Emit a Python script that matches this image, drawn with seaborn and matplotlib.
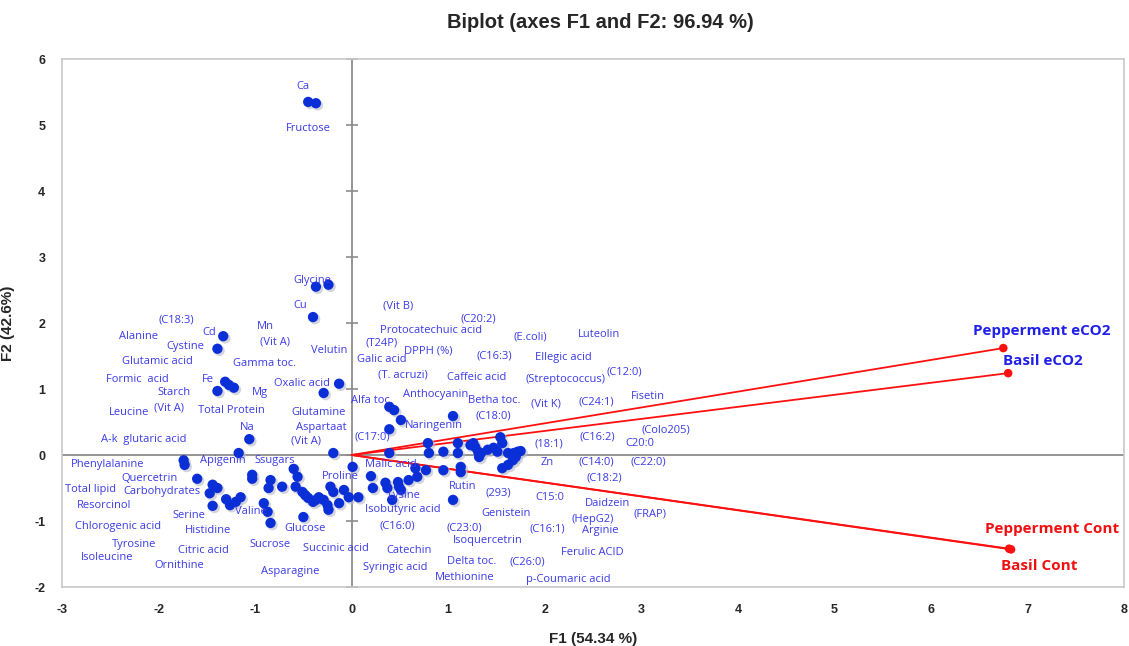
import matplotlib
matplotlib.use("Agg")
import matplotlib.pyplot as plt
import seaborn as sns
import pandas as pd
import numpy as np

# ---------------- data ----------------
# observation points (F1, F2)
obs_f1 = [-0.45, -0.37, -0.37, -0.24, -0.40, -1.33, -1.39, -1.31, -1.27, -1.22,
          -1.39, -0.13, -0.29, -1.06, -1.17, -0.19, -1.74, -1.73, -1.60, -1.44,
          -1.39, -1.47, -1.44, -1.30, -1.26, -1.20, -1.15, -1.03, -1.03, -0.84,
          -0.86, -0.72, -0.91, -0.87, -0.84, -0.60, -0.56, -0.58, -0.51, -0.48,
          -0.45, -0.40, -0.37, -0.34, -0.29, -0.25, -0.24, -0.22, -0.19, -0.13,
          -0.08, -0.03, 0.01, -0.50, 0.39, 0.44, 0.51, 0.39, 0.39, 1.05,
          0.79, 0.80, 0.95, 1.10, 1.10, 1.26, 1.28, 1.31, 1.32, 1.34,
          1.41, 1.47, 1.51, 1.54, 1.56, 1.62, 1.68, 1.72, 1.75, 1.70,
          1.67, 1.62, 1.56, 0.66, 0.68, 0.77, 0.95, 1.13, 1.13, 0.20,
          0.22, 0.35, 0.37, 0.48, 0.49, 0.51, 0.59, 0.42, 1.05, 0.07,
          1.23]
obs_f2 = [5.35, 5.33, 2.55, 2.58, 2.09, 1.80, 1.61, 1.11, 1.06, 1.02,
          0.97, 1.08, 0.94, 0.24, 0.03, 0.03, -0.08, -0.15, -0.36, -0.45,
          -0.50, -0.58, -0.77, -0.67, -0.76, -0.71, -0.64, -0.30, -0.36, -0.38,
          -0.50, -0.48, -0.73, -0.86, -1.03, -0.21, -0.33, -0.48, -0.56, -0.61,
          -0.65, -0.71, -0.68, -0.64, -0.68, -0.76, -0.83, -0.48, -0.56, -0.73,
          -0.53, -0.64, -0.18, -0.94, 0.73, 0.68, 0.53, 0.39, 0.03, 0.59,
          0.18, 0.03, 0.05, 0.18, 0.03, 0.18, 0.12, 0.05, -0.03, 0.03,
          0.08, 0.11, 0.05, 0.27, 0.18, 0.03, 0.03, 0.05, 0.06, -0.03,
          -0.08, -0.15, -0.20, -0.20, -0.33, -0.23, -0.23, -0.18, -0.26, -0.32,
          -0.50, -0.42, -0.50, -0.41, -0.48, -0.53, -0.38, -0.68, -0.68, -0.64,
          0.15]

# observation labels and where they are drawn (F1, F2)
labels = ["Ca", "Fructose", "Glycine", "Cu", "(Vit B)", "(C20:2)", "Protocatechuic acid",
          "(E.coli)", "Luteolin", "(C18:3)", "Cd", "Mn", "Alanine", "Cystine", "(Vit A)",
          "Velutin", "(T24P)", "DPPH (%)", "(C16:3)", "Ellegic acid", "Glutamic acid",
          "Gamma toc.", "Galic acid", "(T. acruzi)", "Caffeic acid", "(Streptococcus)",
          "(C12:0)", "Formic  acid", "Fe", "Starch", "Mg", "Oxalic acid", "(Vit A)",
          "Leucine", "Total Protein", "Glutamine", "Anthocyanin", "Alfa toc.",
          "Betha toc.", "(Vit K)", "(C24:1)", "Fisetin", "(C18:0)", "Naringenin", "Na",
          "Aspartaat", "(C17:0)", "A-k  glutaric acid", "(Vit A)", "(18:1)", "(C16:2)",
          "(Colo205)", "C20:0", "Phenylalanine", "Apigenin", "Ssugars", "Zn", "(C14:0)",
          "(C22:0)", "Quercetrin", "Proline", "Malic acid", "(C18:2)", "Total lipid",
          "Carbohydrates", "Resorcinol", "Lysine", "Rutin", "(293)", "C15:0", "Daidzein",
          "Isobutyric acid", "Serine", "(FRAP)", "Valine", "Genistein", "(HepG2)",
          "Chlorogenic acid", "Histidine", "Glucose", "(C16:0)", "(C23:0)", "(C16:1)",
          "Arginie", "Isoquercetrin", "Tyrosine", "Sucrose", "Succinic acid", "Catechin",
          "Ferulic ACID", "Citric acid", "Isoleucine", "Delta toc.", "(C26:0)",
          "Ornithine", "Asparagine", "Syringic acid", "Methionine", "p-Coumaric acid"]
label_f1 = [-0.50, -0.45, -0.41, -0.53, 0.48, 1.31, 0.82, 1.85, 2.56, -1.82,
            -1.47, -0.89, -2.21, -1.72, -0.79, -0.23, 0.31, 0.79, 1.48, 2.19,
            -2.01, -0.90, 0.31, 0.53, 1.30, 2.22, 2.82, -2.22, -1.49, -1.84,
            -0.95, -0.51, -1.89, -2.31, -1.25, -0.34, 0.87, 0.21, 1.48, 2.01,
            2.53, 3.07, 1.47, 0.85, -1.08, -0.31, 0.21, -2.15, -0.47, 2.04,
            2.54, 3.26, 2.99, -2.53, -1.33, -0.80, 2.03, 2.53, 3.07, -2.09,
            -0.12, 0.41, 2.62, -2.70, -1.96, -2.56, 0.55, 1.15, 1.52, 2.05,
            2.65, 0.53, -1.69, 3.09, -1.04, 1.60, 2.50, -2.42, -1.49, -0.48,
            0.47, 1.17, 2.03, 2.58, 1.41, -2.25, -0.84, -0.16, 0.59, 2.49,
            -1.53, -2.53, 1.24, 1.82, -1.79, -0.64, 0.45, 1.17, 2.24]
label_f2 = [5.58, 4.95, 2.65, 2.27, 2.26, 2.06, 1.88, 1.79, 1.83, 2.05,
            1.85, 1.95, 1.79, 1.64, 1.71, 1.58, 1.70, 1.58, 1.50, 1.48,
            1.41, 1.39, 1.44, 1.21, 1.18, 1.15, 1.26, 1.14, 1.14, 0.95,
            0.94, 1.08, 0.71, 0.64, 0.67, 0.64, 0.92, 0.83, 0.82, 0.77,
            0.80, 0.88, 0.59, 0.44, 0.41, 0.41, 0.27, 0.23, 0.21, 0.17,
            0.27, 0.38, 0.17, -0.14, -0.09, -0.09, -0.11, -0.11, -0.11, -0.35,
            -0.32, -0.15, -0.35, -0.53, -0.56, -0.76, -0.62, -0.47, -0.58, -0.64,
            -0.73, -0.82, -0.92, -0.89, -0.85, -0.89, -0.97, -1.08, -1.14, -1.11,
            -1.08, -1.11, -1.12, -1.15, -1.30, -1.35, -1.35, -1.42, -1.44, -1.47,
            -1.44, -1.55, -1.62, -1.62, -1.68, -1.77, -1.71, -1.86, -1.88]

# variable vectors
var_names = ["Pepperment eCO2", "Basil eCO2", "Pepperment Cont", "Basil Cont"]
var_f1 = [6.75, 6.80, 6.81, 6.83]
var_f2 = [1.62, 1.24, -1.42, -1.43]
var_colors = ["#2020e8", "#2020e8", "#f01010", "#f01010"]
var_label_dx = [0.40, 0.36, 0.45, 0.29]
var_label_dy = [0.26, 0.18, 0.30, -0.25]

x_ticks = list(range(-3, 9))
y_ticks = list(range(-2, 7))

# ---------------- plot ----------------
sns.set_style("white")
plt.rcParams["font.family"] = ["Liberation Sans", "DejaVu Sans"]
plt.rcParams["axes.unicode_minus"] = False

fig = plt.figure(figsize=(11.29, 6.46), dpi=100)
ax = fig.add_axes([62 / 1129, 59 / 646, 1062 / 1129, 528 / 646])

ax.set_xlim(-3, 8)
ax.set_ylim(-2, 6)

# zero lines
ax.axhline(0, color="#8c8c8c", lw=1.3, zorder=1)
ax.axvline(0, color="#8c8c8c", lw=1.3, zorder=1)
# tick marks crossing the vertical zero axis
ax.plot([0] * len(y_ticks), y_ticks, ls="none", marker="_", ms=9,
        mew=1.2, color="#8c8c8c", zorder=1, clip_on=False)

# vectors
rows = []
for n, vx, vy in zip(var_names, var_f1, var_f2):
    rows.append({"F1": 0.0, "F2": 0.0, "var": n})
    rows.append({"F1": vx, "F2": vy, "var": n})
vec_df = pd.DataFrame(rows)
sns.lineplot(data=vec_df, x="F1", y="F2", units="var", estimator=None,
             color="#ff1010", lw=1.3, sort=False, ax=ax, zorder=3)
sns.scatterplot(x=var_f1, y=var_f2, color="#ff1010", s=38, edgecolor="none",
                ax=ax, zorder=4)

# observation points (with faint shadow)
sns.scatterplot(x=np.array(obs_f1) + 0.02, y=np.array(obs_f2) - 0.03,
                color="#b8b8c8", s=60, edgecolor="none", alpha=0.6, ax=ax, zorder=4)
sns.scatterplot(x=obs_f1, y=obs_f2, color="#0a2fd6", s=55, edgecolor="none",
                ax=ax, zorder=5)

# observation labels
for t, lx, ly in zip(labels, label_f1, label_f2):
    ax.text(lx, ly, t, fontsize=8, color="#3b3be8", ha="center", va="center",
            family=["Open Sans", "DejaVu Sans"], zorder=6)

# variable labels
for n, vx, vy, c, dx, dy in zip(var_names, var_f1, var_f2, var_colors,
                                 var_label_dx, var_label_dy):
    ax.text(vx + dx, vy + dy, n, fontsize=11, fontweight="bold", color=c,
            ha="center", va="center", family=["Open Sans", "DejaVu Sans"], zorder=6)

# axes styling
ax.set_xticks(x_ticks)
ax.set_yticks(y_ticks)
ax.tick_params(axis="both", length=0, labelsize=9)
ax.tick_params(axis="x", pad=12)
ax.tick_params(axis="y", pad=12)
for lab in ax.get_xticklabels() + ax.get_yticklabels():
    lab.set_fontweight("bold")
for s in ax.spines.values():
    s.set_color("#c8c8c8")
    s.set_linewidth(1.2)
ax.grid(False)

ax.set_xlabel("F1 (54.34 %)", fontsize=11, fontweight="bold", labelpad=12)
ax.set_ylabel("F2 (42.6%)", fontsize=11, fontweight="bold", labelpad=14)
fig.text(600 / 1129, 1 - 22 / 646, "Biplot (axes F1 and F2: 96.94 %)",
         ha="center", va="center", fontsize=14.5, fontweight="bold",
         family=["Liberation Sans Narrow", "Liberation Sans"])

fig.savefig("out.png", dpi=100)
